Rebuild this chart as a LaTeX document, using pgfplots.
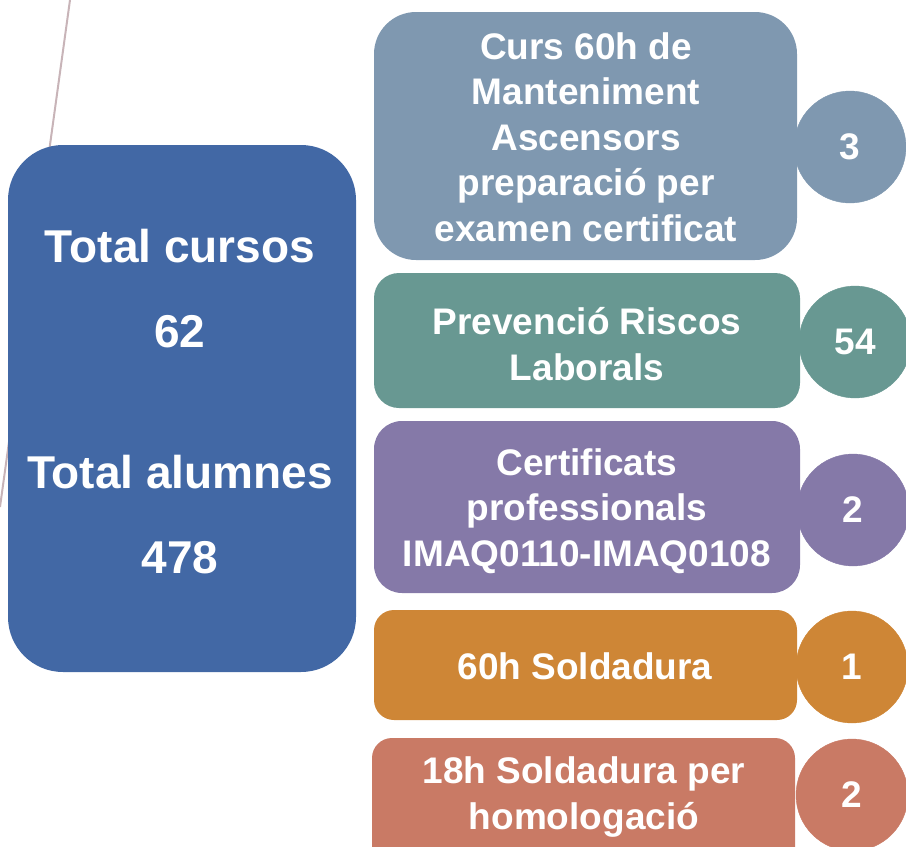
\documentclass[border=0pt]{standalone}
\usepackage{fontspec}
\setmainfont{Liberation Sans}
\usepackage{pgfplots}
\pgfplotsset{compat=1.18}

\definecolor{cblue}{RGB}{66,104,165}
\definecolor{cone}{RGB}{127,152,176}
\definecolor{ctwo}{RGB}{104,152,146}
\definecolor{cthree}{RGB}{133,121,168}
\definecolor{cfour}{RGB}{206,134,54}
\definecolor{cfive}{RGB}{201,122,101}
\definecolor{cline}{RGB}{200,180,184}

\newcommand{\bigfont}{\fontsize{46}{52}\selectfont\bfseries}
\newcommand{\boxfont}{\fontsize{37}{45.5}\selectfont\bfseries}

\pgfplotsset{
  bubble/.style = {only marks, mark=*, mark size=56pt, color=#1,
    nodes near coords, point meta=explicit symbolic,
    nodes near coords style={anchor=center, text=white, font=\boxfont}},
}
\tikzset{
  lbl/.style = {text=white, align=center, anchor=center, inner sep=0pt, font=\boxfont}
}

\begin{document}
\begin{tikzpicture}
\begin{axis}[
  name=main,
  hide axis,
  scale only axis,
  width=906pt, height=847pt,
  xmin=0, xmax=906, ymin=0, ymax=847,
  y dir=reverse,
  clip=false,
]
% thin line behind the big box
\addplot[cline, line width=2pt] coordinates {(70,0) (0,507)};

% big summary box
\fill[cblue, rounded corners=55pt] (axis cs:8,145) rectangle (axis cs:356,672);
\node[text=white, font=\bigfont, anchor=center] at (axis cs:180,246) {Total cursos};
\node[text=white, font=\bigfont, anchor=center] at (axis cs:180,332) {62};
\node[text=white, font=\bigfont, anchor=center] at (axis cs:180,472) {Total alumnes};
\node[text=white, font=\bigfont, anchor=center] at (axis cs:180,558) {478};

% course boxes
\fill[cone, rounded corners=42pt] (axis cs:374,12) rectangle (axis cs:797,260);
\fill[ctwo, rounded corners=25pt] (axis cs:374,273) rectangle (axis cs:800,408);
\fill[cthree, rounded corners=28pt] (axis cs:374,421) rectangle (axis cs:800,593);
\fill[cfour, rounded corners=20pt] (axis cs:374,610) rectangle (axis cs:797,720);
\fill[cfive, rounded corners=20pt] (axis cs:372,738) rectangle (axis cs:795,880);

\node[lbl] at (axis cs:586,137) {Curs 60h de\\Manteniment\\Ascensors\\preparació per\\examen certificat};
\node[lbl] at (axis cs:587,344) {Prevenció Riscos\\Laborals};
\node[lbl] at (axis cs:587,511) {Certificats\\professionals\\IMAQ0110-IMAQ0108};
\node[lbl] at (axis cs:585,666) {60h Soldadura};
\node[lbl] at (axis cs:584,797) {18h Soldadura per\\homologació};

% number bubbles
\addplot[bubble=cone] coordinates {(850,147) [3]};
\addplot[bubble=ctwo] coordinates {(855,342) [54]};
\addplot[bubble=cthree] coordinates {(853,510) [2]};
\addplot[bubble=cfour] coordinates {(852,667) [1]};
\addplot[bubble=cfive] coordinates {(852,795) [2]};
\end{axis}
\pgfresetboundingbox
\path[use as bounding box] (main.south west) rectangle (main.north east);
\end{tikzpicture}
\end{document}
